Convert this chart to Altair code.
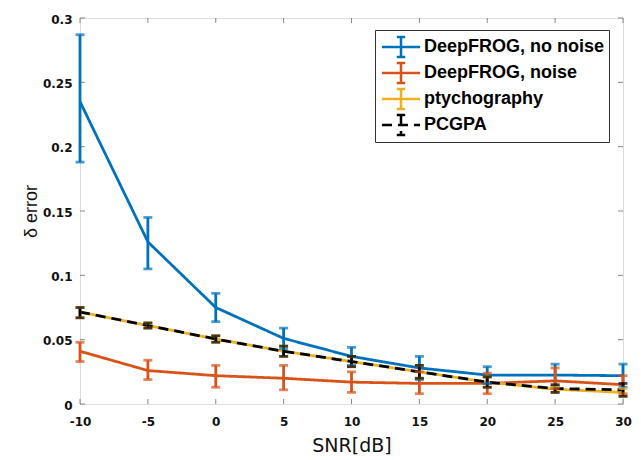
import altair as alt
import pandas as pd

snr = [-10, -5, 0, 5, 10, 15, 20, 25, 30]
series_names = ["DeepFROG, no noise", "DeepFROG, noise", "ptychography", "PCGPA"]
colors = ["#0072BD", "#D95319", "#EDB120", "#000000"]
y_ticks = [0, 0.05, 0.1, 0.15, 0.2, 0.25, 0.3]

nn_mean = [0.235, 0.126, 0.075, 0.051, 0.037, 0.028, 0.0225, 0.0225, 0.022]
nn_lo = [0.188, 0.105, 0.064, 0.043, 0.030, 0.019, 0.016, 0.014, 0.013]
nn_hi = [0.287, 0.145, 0.086, 0.059, 0.044, 0.037, 0.029, 0.031, 0.031]

n_mean = [0.041, 0.026, 0.022, 0.020, 0.017, 0.016, 0.016, 0.018, 0.015]
n_lo = [0.033, 0.019, 0.013, 0.011, 0.009, 0.008, 0.008, 0.012, 0.008]
n_hi = [0.048, 0.034, 0.030, 0.030, 0.025, 0.025, 0.024, 0.028, 0.022]

pt_mean = [0.0715, 0.061, 0.0505, 0.041, 0.033, 0.025, 0.017, 0.0115, 0.009]
pt_lo = [0.067, 0.059, 0.048, 0.037, 0.029, 0.020, 0.013, 0.009, 0.006]
pt_hi = [0.075, 0.063, 0.053, 0.045, 0.037, 0.030, 0.021, 0.014, 0.012]

pc_mean = [0.0715, 0.061, 0.0505, 0.041, 0.033, 0.025, 0.017, 0.012, 0.011]
pc_lo = [0.067, 0.059, 0.048, 0.037, 0.029, 0.020, 0.013, 0.009, 0.006]
pc_hi = [0.075, 0.063, 0.053, 0.045, 0.037, 0.030, 0.021, 0.015, 0.016]

rows = []
for name, m, lo, hi in zip(series_names,
                           [nn_mean, n_mean, pt_mean, pc_mean],
                           [nn_lo, n_lo, pt_lo, pc_lo],
                           [nn_hi, n_hi, pt_hi, pc_hi]):
    for xv, a, b, c in zip(snr, m, lo, hi):
        rows.append({"series": name, "snr": xv, "err": a, "lo": b, "hi": c})
df = pd.DataFrame(rows)

xt = pd.DataFrame({"snr": snr, "ybot": [0] * len(snr), "ytop": [0.3] * len(snr)})
yt = pd.DataFrame({"val": y_ticks, "xl": [-10] * len(y_ticks), "xr": [30] * len(y_ticks)})

FONT = "DejaVu Sans"
LFONT = "Liberation Sans"
TICKC = "#555"

xscale = alt.Scale(domain=[-10, 30], nice=False, zero=False, padding=0)
yscale = alt.Scale(domain=[0, 0.3], nice=False, zero=False, padding=0)
cscale = alt.Scale(domain=series_names, range=colors)
dscale = alt.Scale(domain=series_names, range=[[1, 0], [1, 0], [1, 0], [10, 6]])

xaxis = alt.Axis(values=snr, title="SNR[dB]", domain=False, ticks=False, labelFlush=False,
                 labelPadding=12, grid=False, labelExpr="'' + datum.value",
                 labelFont=FONT, labelFontSize=12, labelFontWeight="bold", labelColor="#111",
                 titleFont=FONT, titleFontSize=19, titleFontWeight="normal", titleColor="#111",
                 titlePadding=9)
yaxis = alt.Axis(values=y_ticks, title="δ error", domain=False, ticks=False, labelFlush=False,
                 labelPadding=8, grid=False, labelExpr="'' + datum.value",
                 labelFont=FONT, labelFontSize=12, labelBaseline="top", labelOffset=-4,
                 labelFontWeight="bold", labelColor="#111", titleFont=LFONT, titleFontSize=18,
                 titleFontWeight="normal", titleColor="#111", titlePadding=2)

legend = alt.Legend(title=None, orient="none", legendX=295, legendY=12,
                    symbolType="M-3.17,0H3.17M0,-1.67V1.67M-0.7,-1.67H0.7M-0.7,1.67H0.7",
                    symbolSize=144, symbolStrokeWidth=2.5, symbolOffset=13,
                    labelFont=LFONT, labelFontSize=18, labelFontWeight="bold", labelColor="#000",
                    labelLimit=400, labelOffset=14, clipHeight=26,
                    strokeColor="#333", fillColor="white", padding=4, rowPadding=0)

base = alt.Chart(df)

lines = base.mark_line(strokeWidth=2.8).encode(
    x=alt.X("snr:Q", scale=xscale, axis=xaxis),
    y=alt.Y("err:Q", scale=yscale, axis=yaxis),
    color=alt.Color("series:N", scale=cscale, legend=legend, sort=series_names),
    strokeDash=alt.StrokeDash("series:N", scale=dscale, legend=legend, sort=series_names),
    order=alt.Order("snr:Q"),
)

rules = base.mark_rule(strokeWidth=2.8).encode(
    x="snr:Q", y="lo:Q", y2="hi:Q",
    color=alt.Color("series:N", scale=cscale, legend=None),
)
caps_lo = base.mark_tick(orient="horizontal", size=9, thickness=2.8).encode(
    x="snr:Q", y="lo:Q", color=alt.Color("series:N", scale=cscale, legend=None))
caps_hi = base.mark_tick(orient="horizontal", size=9, thickness=2.8).encode(
    x="snr:Q", y="hi:Q", color=alt.Color("series:N", scale=cscale, legend=None))

# inward tick marks on all four sides
xt_bot = alt.Chart(xt).mark_tick(orient="vertical", size=5, thickness=1, color=TICKC, yOffset=-2.5).encode(
    x="snr:Q", y="ybot:Q")
xt_top = alt.Chart(xt).mark_tick(orient="vertical", size=5, thickness=1, color=TICKC, yOffset=2.5).encode(
    x="snr:Q", y="ytop:Q")
yt_l = alt.Chart(yt).mark_tick(orient="horizontal", size=5, thickness=1, color=TICKC, xOffset=2.5).encode(
    x="xl:Q", y="val:Q")
yt_r = alt.Chart(yt).mark_tick(orient="horizontal", size=5, thickness=1, color=TICKC, xOffset=-2.5).encode(
    x="xr:Q", y="val:Q")

chart = alt.layer(xt_bot, xt_top, yt_l, yt_r, lines, rules, caps_lo, caps_hi).properties(
    width=543, height=386,
    autosize=alt.AutoSizeParams(type="none"),
    padding={"left": 72, "top": 10, "right": 10, "bottom": 58},
).configure_view(stroke="#444", strokeWidth=1.2).configure(background="white")

chart.save("out.html", embed_options={"renderer": "svg", "actions": False})
